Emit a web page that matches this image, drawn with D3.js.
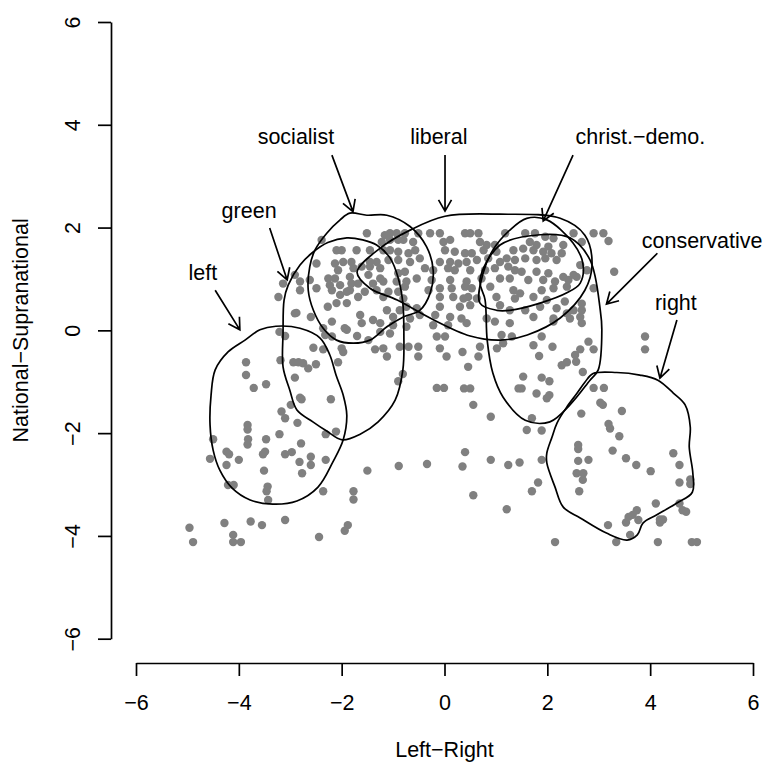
<!DOCTYPE html>
<html>
<head>
<meta charset="utf-8">
<script src="https://cdn.jsdelivr.net/npm/d3@7"></script>
<style>
  body { margin: 0; background: #fff; }
  text { font-family: "Liberation Sans", Arial, Helvetica, sans-serif; }
</style>
</head>
<body>
<div id="chart"></div>
<script>
// respondent positions (Left-Right, National-Supranational)
let pointsLeft = [
  [-2.88,0.34],[-2.91,0.33],[-2.60,0.26],[-2.27,0.46],[-2.19,0.17],[-2.36,0.04],[-2.32,-0.09],[-2.19,-0.12],
  [-1.94,0.04],[-1.90,0.01],[-1.70,-0.11],[-1.48,-0.19],[-1.35,-0.37],[-3.21,-0.03],[-3.10,-0.11],[-2.55,-0.34],
  [-2.36,-0.37],[-2.00,-0.35],[-1.97,-0.42],[-3.86,-0.62],[-3.19,-0.58],[-2.94,-0.62],[-2.84,-0.62],[-2.75,-0.64],
  [-2.65,-0.74],[-2.50,-0.66],[-2.07,-0.62],[-3.86,-0.87],[-3.47,-1.05],[-3.71,-1.12],[-2.91,-0.92],[-2.81,-1.31],
  [-2.78,-1.34],[-2.21,-1.34],[-2.99,-1.45],[-3.17,-1.58],[-3.10,-1.71],[-2.86,-1.80],[-3.83,-1.84],[-3.83,-1.93],
  [-4.50,-2.12],[-3.82,-2.12],[-3.83,-2.22],[-3.47,-2.12],[-3.21,-2.02],[-2.79,-2.20],[-2.31,-2.02],[-2.11,-1.97],
  [-4.24,-2.36],[-4.19,-2.41],[-4.56,-2.50],[-4.00,-2.52],[-4.24,-2.62],[-3.53,-2.41],[-3.49,-2.36],[-3.10,-2.41],
  [-2.97,-2.37],[-2.82,-2.56],[-2.60,-2.46],[-2.60,-2.62],[-2.31,-2.52],[-3.51,-2.73],[-2.77,-2.78],[-1.50,-2.73],
  [-4.21,-3.01],[-4.10,-3.01],[-3.44,-3.04],[-3.46,-3.13],[-3.43,-3.30],[-2.36,-3.13],[-1.77,-3.13],[-1.77,-3.29],
  [-4.96,-3.84],[-4.28,-3.75],[-3.77,-3.72],[-3.55,-3.79],[-3.10,-3.69],[-4.89,-4.12],[-4.11,-3.98],[-4.11,-4.12],
  [-3.96,-4.12],[-2.44,-4.02],[-1.88,-3.79],[-1.94,-3.90],[-2.10,0.53],[-1.90,0.53],[-1.64,0.30],[-1.39,0.20],
  [-1.61,0.14]
]

let pointsSocialist = [
  [-1.51,1.89],[-1.16,1.85],[-1.06,1.89],[-0.93,1.89],[-2.39,1.76],[-1.22,1.72],[-1.06,1.76],[-0.90,1.76],
  [-2.10,1.56],[-2.00,1.56],[-1.71,1.56],[-1.45,1.56],[-1.19,1.56],[-1.06,1.56],[-0.90,1.53],
  [-2.49,1.30],[-2.13,1.30],[-1.97,1.33],[-1.81,1.33],[-1.45,1.33],[-1.32,1.33],[-1.09,1.37],[-0.90,1.37],
  [-2.07,1.17],[-1.77,1.21],[-1.61,1.24],[-1.45,1.24],[-1.25,1.21],
  [-2.91,1.08],[-2.26,1.01],[-2.13,1.01],[-1.84,1.04],[-1.48,1.08],[-1.25,1.01],[-0.90,1.11],
  [-3.14,0.91],[-2.81,0.95],[-2.62,0.98],[-2.23,0.88],[-2.03,0.88],[-1.81,0.91],[-1.68,0.91],[-1.39,0.91],
  [-1.19,0.95],[-0.93,0.95],[-3.23,0.65],[-2.81,0.78],[-2.49,0.82],[-2.19,0.78],[-1.90,0.75],[-1.84,0.78],
  [-1.55,0.75],[-1.32,0.78],[-1.09,0.75],[-0.90,0.75],[-2.03,0.69],[-1.68,0.65],[-1.19,0.65],
  [-1.12,0.39],[-0.87,0.39],[-1.00,0.26],[-1.25,0.14],[-1.00,0.10],[-1.25,-0.03],[-1.06,-0.06],[-0.87,-0.32],
  [-1.12,-0.51],[-1.19,-0.35]
]

let pointsCentre = [
  [-0.77,1.89],[-0.51,1.89],[-0.28,1.89],[-0.09,1.89],[0.40,1.89],[0.50,1.89],[0.66,1.89],[1.18,1.89],
  [1.57,1.89],[1.76,1.89],[1.96,1.82],[2.12,1.79],[2.51,1.89],[2.90,1.89],
  [-0.80,1.76],[-0.61,1.72],[-0.02,1.72],[0.11,1.76],[0.69,1.72],[0.82,1.66],[0.98,1.66],[1.66,1.72],
  [1.79,1.66],[2.02,1.63],[2.31,1.66],[2.67,1.72],
  [-0.70,1.50],[-0.57,1.56],[0.01,1.56],[0.20,1.53],[0.40,1.50],[0.53,1.50],[0.76,1.56],[1.01,1.53],
  [1.34,1.56],[1.53,1.59],[1.73,1.56],[1.92,1.53],[2.08,1.50],[2.28,1.50],
  [-0.67,1.33],[-0.48,1.40],[-0.09,1.33],[0.11,1.33],[0.27,1.30],[0.43,1.33],[0.63,1.37],[0.85,1.40],
  [1.08,1.33],[1.21,1.40],[1.37,1.37],[1.57,1.40],[1.79,1.37],[1.96,1.40],[2.18,1.37],[2.64,1.27],
  [-0.77,1.14],[-0.38,1.21],[-0.22,1.17],[0.07,1.21],[0.20,1.17],[0.50,1.17],[0.79,1.17],[0.98,1.21],
  [1.24,1.24],[1.37,1.17],[1.50,1.14],[1.79,1.14],[2.02,1.11],[2.31,1.04],[2.57,1.04],[2.77,1.17],
  [-0.74,0.95],[-0.54,1.01],[-0.25,0.98],[0.11,0.98],[0.43,0.95],[0.72,1.01],[1.08,1.01],[1.27,1.01],
  [1.63,0.98],[1.92,0.98],[2.15,0.95],[2.41,0.98],[2.51,1.08],
  [-0.77,0.85],[-0.31,0.78],[-0.09,0.82],[0.14,0.82],[0.40,0.85],[0.53,0.82],[0.89,0.85],[1.34,0.78],
  [1.47,0.72],[1.89,0.78],[2.12,0.82],[2.38,0.85],[2.90,0.82],
  [-0.80,0.62],[-0.09,0.65],[0.17,0.65],[0.37,0.62],[0.46,0.65],[0.63,0.62],[1.01,0.65],[1.37,0.62],
  [1.73,0.65],[1.99,0.59],[2.34,0.56],[2.67,0.52],
  [-0.74,0.46],[-0.54,0.43],[-0.09,0.46],[0.30,0.46],[0.50,0.49],[1.08,0.49],[1.27,0.39],[1.57,0.39],
  [1.86,0.46],[2.18,0.43],[2.38,0.33],[2.51,0.39],[2.67,0.39],
  [-0.67,0.23],[-0.48,0.30],[-0.18,0.30],[0.11,0.26],[0.33,0.23],[0.82,0.23],[1.73,0.26],[2.12,0.23],
  [2.44,0.23],[2.64,0.26],
  [-0.74,0.07],[-0.22,0.10],[0.07,0.10],[-0.15,-0.12],[0.01,-0.12],[-0.70,-0.32],[-0.51,-0.32],[-0.09,-0.35],
  [-0.51,-0.51],[0.04,-0.51],
  [3.09,1.89],[3.19,1.74],[3.30,1.14],[2.12,0.17],[2.67,0.14],
  [-0.81,-0.85],[-0.90,-0.99],[-0.15,-1.12],[-0.01,-1.12],[-0.34,-2.60],[-0.89,-2.64]
]

let pointsRight = [
  [0.43,0.14],[0.98,0.17],[1.27,0.14],[1.11,-0.09],[1.31,-0.12],[1.14,-0.25],[0.35,-0.42],[0.69,-0.32],
  [1.02,-0.35],[0.46,-0.71],[0.66,-0.51],[1.53,-0.90],[1.44,-1.13],[1.50,-1.13],[0.38,-1.13],[0.50,-1.13],
  [0.56,-1.45],[0.90,-1.68],[1.60,-1.94],[0.40,-2.37],[0.35,-2.65],[0.90,-2.52],[1.24,-2.62],[1.46,-2.57],
  [0.56,-3.21],[1.21,-3.48],
  [1.89,-0.12],[1.73,-0.29],[2.10,-0.32],[1.84,-0.50],[2.80,-0.22],[2.64,-0.37],[2.90,-0.37],[2.54,-0.48],
  [2.56,-0.61],[2.38,-0.62],[2.28,-0.68],[2.69,-0.81],[3.90,-0.12],[3.90,-0.37],[1.89,-0.92],[2.04,-0.99],
  [1.79,-1.23],[1.99,-1.32],[2.04,-1.26],[2.90,-1.12],[3.10,-1.12],[3.03,-1.41],[3.08,-1.45],[3.45,-1.57],
  [2.66,-1.62],[1.70,-1.71],[1.89,-1.95],[3.19,-1.82],[3.22,-1.91],[3.40,-2.06],[2.60,-2.23],[2.60,-2.31],
  [3.27,-2.34],[3.53,-2.49],[3.73,-2.62],[4.01,-2.74],[4.45,-2.39],[4.57,-2.62],[2.60,-2.54],[2.80,-2.52],
  [1.89,-2.52],[2.57,-2.78],[2.70,-2.78],[2.69,-2.91],[2.62,-3.13],[1.82,-2.96],[1.70,-3.13],[4.57,-2.96],
  [4.78,-2.90],[4.78,-2.99],[4.11,-3.37],[4.57,-3.37],[4.63,-3.50],[4.70,-3.53],[3.74,-3.50],[3.66,-3.59],
  [3.58,-3.63],[3.53,-3.74],[3.77,-3.69],[4.19,-3.68],[4.25,-3.68],[4.19,-3.74],[3.18,-3.79],[3.61,-3.98],
  [2.15,-4.12],[3.34,-4.12],[4.15,-4.12],[4.81,-4.12],[4.91,-4.12]
]

// party contours (density outlines)
let contourLeft = [
  [-3.28,0.08],[-2.81,0.04],[-2.42,-0.15],[-2.23,-0.48],[-2.11,-0.87],[-1.97,-1.26],[-1.90,-1.65],[-1.97,-2.13],
  [-2.17,-2.56],[-2.46,-3.05],[-2.87,-3.32],[-3.34,-3.38],[-3.78,-3.30],[-4.13,-3.07],[-4.37,-2.72],[-4.50,-2.33],
  [-4.56,-1.84],[-4.54,-1.26],[-4.46,-0.77],[-4.21,-0.42],[-3.88,-0.19],[-3.59,0.01]
]
let contourGreen = [
  [-3.04,0.88],[-2.81,1.27],[-2.56,1.52],[-2.27,1.71],[-1.90,1.80],[-1.59,1.76],[-1.32,1.66],[-1.06,1.41],
  [-0.90,1.02],[-0.81,0.53],[-0.79,-0.09],[-0.81,-0.77],[-0.96,-1.36],[-1.29,-1.78],[-1.64,-2.02],[-1.99,-2.13],
  [-2.29,-1.96],[-2.56,-1.78],[-2.87,-1.55],[-3.01,-1.16],[-3.14,-0.71],[-3.14,-0.05],[-3.12,0.59]
]
let contourSocialist = [
  [-1.84,2.28],[-1.51,2.24],[-1.12,2.24],[-0.67,2.02],[-0.35,1.63],[-0.22,1.17],[-0.28,0.72],[-0.48,0.39],
  [-0.80,0.26],[-1.12,0.07],[-1.45,-0.19],[-1.77,-0.25],[-2.10,-0.19],[-2.36,0.04],[-2.55,0.39],[-2.65,0.78],
  [-2.62,1.24],[-2.52,1.56],[-2.29,1.89],[-2.03,2.15]
]
let contourLiberal = [
  [-1.70,1.13],[-1.25,1.60],[-0.67,1.95],[0.01,2.22],[1.08,2.26],[2.25,2.18],[2.73,1.85],[2.87,1.27],
  [2.73,0.78],[2.25,0.24],[1.61,-0.09],[1.08,-0.19],[0.50,-0.11],[-0.28,0.24],[-0.92,0.59],[-1.45,0.82]
]
let contourChristDemo = [
  [0.69,0.53],[1.02,0.39],[1.27,0.39],[1.86,0.53],[2.38,0.73],[2.64,0.92],[2.69,1.31],[2.50,1.70],
  [1.99,2.15],[1.60,2.18],[1.27,1.95],[0.94,1.56],[0.75,1.11]
]
let contourConservative = [
  [0.69,0.98],[1.08,1.66],[1.86,1.86],[2.44,1.80],[2.83,1.37],[3.03,0.39],[3.06,0.01],[2.99,-0.77],
  [2.83,-0.97],[2.44,-1.45],[2.05,-1.78],[1.57,-1.75],[1.14,-1.30],[0.94,-0.83],[0.83,-0.19],[0.79,0.59]
]
let contourRight = [
  [2.89,-0.84],[3.35,-0.82],[3.80,-0.87],[4.15,-0.97],[4.45,-1.22],[4.68,-1.45],[4.78,-1.88],[4.76,-2.27],
  [4.83,-2.78],[4.82,-3.15],[4.52,-3.36],[4.13,-3.59],[3.86,-3.75],[3.75,-3.98],[3.55,-4.08],[3.16,-3.95],
  [2.64,-3.65],[2.31,-3.44],[2.15,-3.05],[1.99,-2.58],[1.99,-2.39],[2.09,-2.08],[2.19,-1.80],[2.38,-1.49],
  [2.58,-1.22],[2.73,-1.01]
]

// party labels: name, label position, arrow start, arrow end
let partyNames = ['left', 'green', 'socialist', 'liberal', 'christ.\u2212demo.', 'conservative', 'right']
let labelPos = [[-4.70,1.13],[-3.80,2.34],[-2.89,3.78],[-0.11,3.78],[3.81,3.78],[5.01,1.74],[4.50,0.55]]
let arrowFrom = [[-4.46,0.78],[-3.40,1.99],[-2.19,3.41],[0.01,3.41],[2.50,3.41],[4.14,1.50],[4.52,0.20]]
let arrowTo = [[-3.98,0.01],[-3.06,0.98],[-1.78,2.31],[0.01,2.32],[1.92,2.13],[3.15,0.51],[4.19,-0.93]]

let ticks = [-6, -4, -2, 0, 2, 4, 6]

let width = 764
let height = 767

let svg = d3
  .select('#chart')
  .append('svg')
  .attr('width', width)
  .attr('height', height)

let xPositionScale = d3.scaleLinear().domain([-6, 6]).range([136, 753])
let yPositionScale = d3.scaleLinear().domain([-6, 6]).range([638.7, 22])

let fontSize = 21.5

// points
let allPoints = pointsLeft.concat(pointsSocialist, pointsCentre, pointsRight)
svg
  .append('g')
  .selectAll('circle')
  .data(allPoints)
  .enter()
  .append('circle')
  .attr('cx', d => xPositionScale(d[0]))
  .attr('cy', d => yPositionScale(d[1]))
  .attr('r', 4.2)
  .attr('fill', '#808080')

// contours
let contour = d3
  .line()
  .x(d => xPositionScale(d[0]))
  .y(d => yPositionScale(d[1]))
  .curve(d3.curveCatmullRomClosed.alpha(0.5))

let contours = [contourLeft, contourGreen, contourSocialist, contourLiberal,
  contourChristDemo, contourConservative, contourRight]

svg
  .append('g')
  .selectAll('path')
  .data(contours)
  .enter()
  .append('path')
  .attr('d', d => contour(d))
  .attr('fill', 'none')
  .attr('stroke', '#000')
  .attr('stroke-width', 1.7)

// labels
svg
  .append('g')
  .selectAll('text')
  .data(partyNames)
  .enter()
  .append('text')
  .attr('x', (d, i) => xPositionScale(labelPos[i][0]))
  .attr('y', (d, i) => yPositionScale(labelPos[i][1]))
  .attr('dy', '0.35em')
  .attr('text-anchor', 'middle')
  .attr('font-size', fontSize)
  .text(d => d)

// arrows with open heads
function arrowPath(i) {
  let x0 = xPositionScale(arrowFrom[i][0])
  let y0 = yPositionScale(arrowFrom[i][1])
  let x1 = xPositionScale(arrowTo[i][0])
  let y1 = yPositionScale(arrowTo[i][1])
  let a = Math.atan2(y1 - y0, x1 - x0)
  let len = 13
  let spread = Math.PI / 6
  let p = d3.path()
  p.moveTo(x0, y0)
  p.lineTo(x1, y1)
  p.moveTo(x1 - len * Math.cos(a - spread), y1 - len * Math.sin(a - spread))
  p.lineTo(x1, y1)
  p.lineTo(x1 - len * Math.cos(a + spread), y1 - len * Math.sin(a + spread))
  return p.toString()
}

svg
  .append('g')
  .selectAll('path')
  .data(partyNames)
  .enter()
  .append('path')
  .attr('d', (d, i) => arrowPath(i))
  .attr('fill', 'none')
  .attr('stroke', '#000')
  .attr('stroke-width', 1.7)

// axes
let xAxis = d3.axisBottom(xPositionScale).tickValues(ticks).tickSize(13).tickSizeOuter(0).tickPadding(19)
let yAxis = d3.axisLeft(yPositionScale).tickValues(ticks).tickSize(13).tickSizeOuter(0)

let xg = svg
  .append('g')
  .attr('class', 'axis x-axis')
  .attr('transform', 'translate(0,663)')
  .call(xAxis)

let yg = svg
  .append('g')
  .attr('class', 'axis y-axis')
  .attr('transform', 'translate(111,0)')
  .call(yAxis)

svg.selectAll('.axis path, .axis line').attr('stroke', '#000').attr('stroke-width', 1.7)
svg.selectAll('.axis text').attr('font-size', fontSize).attr('font-family', '"Liberation Sans", Arial, sans-serif').attr('fill', '#000')

yg.selectAll('.tick text')
  .attr('x', null)
  .attr('dy', null)
  .attr('text-anchor', 'middle')
  .attr('transform', 'translate(-31,0) rotate(-90)')

// axis titles
svg
  .append('text')
  .attr('x', xPositionScale(0))
  .attr('y', 757)
  .attr('text-anchor', 'middle')
  .attr('font-size', fontSize)
  .text('Left\u2212Right')

svg
  .append('text')
  .attr('transform', 'translate(28,' + yPositionScale(0) + ') rotate(-90)')
  .attr('text-anchor', 'middle')
  .attr('font-size', fontSize)
  .text('National\u2212Supranational')
</script>
</body>
</html>
